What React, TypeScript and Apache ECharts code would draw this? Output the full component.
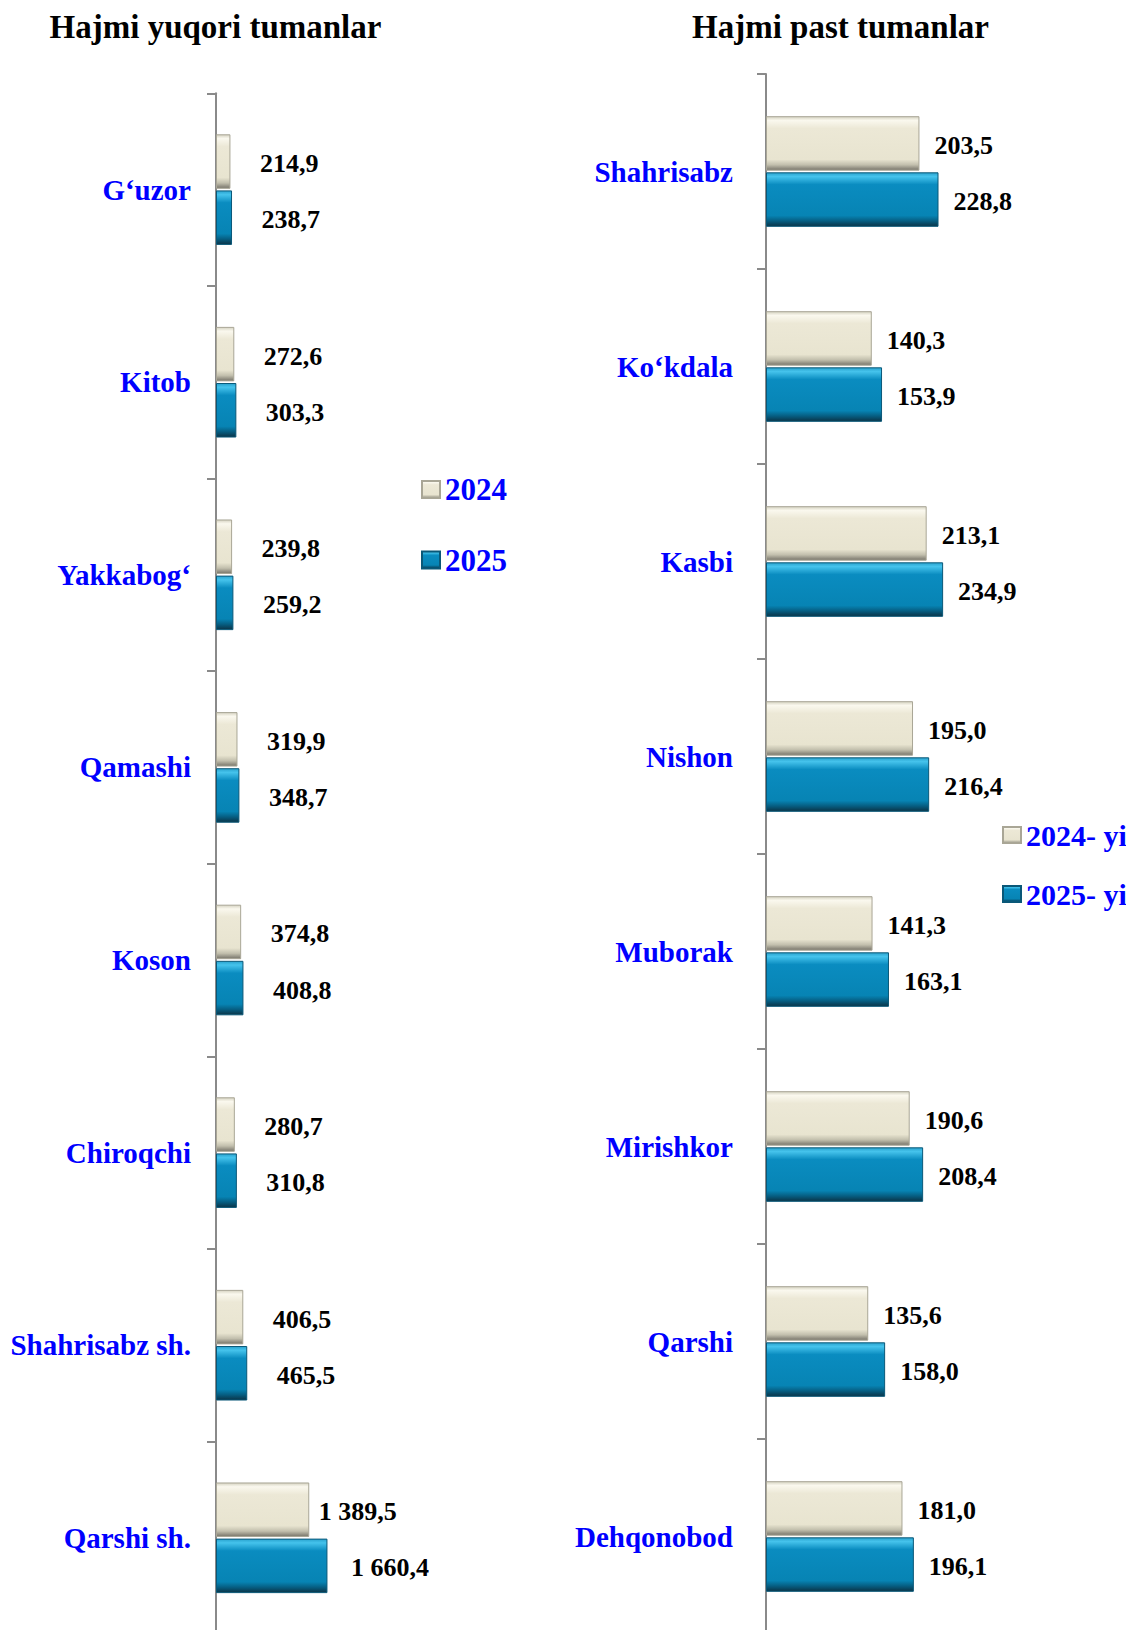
import React, { useEffect, useRef } from "react";
import * as echarts from "echarts";

const leftCategories = ["G‘uzor", "Kitob", "Yakkabog‘", "Qamashi", "Koson", "Chiroqchi", "Shahrisabz sh.", "Qarshi sh."];
const left2024 = [214.9, 272.6, 239.8, 319.9, 374.8, 280.7, 406.5, 1389.5];
const left2025 = [238.7, 303.3, 259.2, 348.7, 408.8, 310.8, 465.5, 1660.4];

const rightCategories = ["Shahrisabz", "Ko‘kdala", "Kasbi", "Nishon", "Muborak", "Mirishkor", "Qarshi", "Dehqonobod"];
const right2024 = [203.5, 140.3, 213.1, 195.0, 141.3, 190.6, 135.6, 181.0];
const right2025 = [228.8, 153.9, 234.9, 216.4, 163.1, 208.4, 158.0, 196.1];

const leftSeriesNames = ["2024", "2025"];
const rightSeriesNames = ["2024- yil", "2025- yil"];
const titles = ["Hajmi yuqori tumanlar", "Hajmi past tumanlar"];

const FONT = '"Liberation Serif", "Times New Roman", serif';

const fmt = (v: number) => {
  const [i, d] = v.toFixed(1).split(".");
  return i.replace(/\B(?=(\d{3})+(?!\d))/g, " ") + "," + d;
};

const grad2024 = () =>
  new echarts.graphic.LinearGradient(0, 0, 0, 1, [
    { offset: 0, color: "#D6D3C2" },
    { offset: 0.07, color: "#FAF8EE" },
    { offset: 0.22, color: "#ECE8D6" },
    { offset: 0.8, color: "#E8E4D0" },
    { offset: 0.9, color: "#C2BFAD" },
    { offset: 1, color: "#77746A" },
  ]);

const grad2025 = () =>
  new echarts.graphic.LinearGradient(0, 0, 0, 1, [
    { offset: 0, color: "#2AA3CF" },
    { offset: 0.07, color: "#45C3EC" },
    { offset: 0.22, color: "#0A8CC0" },
    { offset: 0.8, color: "#0784B4" },
    { offset: 0.9, color: "#065E82" },
    { offset: 1, color: "#0B3447" },
  ]);

export default function App() {
  const ref = useRef<HTMLDivElement>(null);

  useEffect(() => {
    if (!ref.current) return;
    const chart = echarts.init(ref.current, null, { renderer: "svg" });

    const axisStyle = { color: "#8A8A8A", width: 2 };
    const valueLabel = (dist: number) => ({
      show: true,
      position: "right" as const,
      distance: dist,
      offset: [0, 2],
      formatter: (p: any) => fmt(p.value),
      fontFamily: FONT,
      fontWeight: "bold" as const,
      fontSize: 26,
      color: "#000",
    });

    const lastIdx = left2024.length - 1;

    const titleText = (x: number, text: string) => ({
      type: "text",
      x,
      y: 27,
      style: {
        text,
        fontFamily: FONT,
        fontWeight: "bold",
        fontSize: 33,
        fill: "#000",
        align: "center",
        verticalAlign: "middle",
      },
    });

    const option: any = {
      animation: false,
      backgroundColor: "#fff",
      graphic: [titleText(215.5, titles[0]), titleText(840.5, titles[1])],
      legend: [
        {
          data: leftSeriesNames,
          orient: "vertical",
          left: 416,
          top: 469,
          icon: "rect",
          itemWidth: 18,
          itemHeight: 17,
          itemGap: 39.5,
          textStyle: { fontFamily: FONT, fontWeight: "bold", fontSize: 31, color: "#0000FF" },
        },
        {
          data: rightSeriesNames,
          orient: "vertical",
          left: 997,
          top: 815,
          icon: "rect",
          itemWidth: 18,
          itemHeight: 16,
          itemGap: 29,
          textStyle: { fontFamily: FONT, fontWeight: "bold", fontSize: 30, color: "#0000FF" },
        },
      ],
      grid: [
        { left: 216, top: 93.3, width: 335.6, height: 1540.8, containLabel: false, outerBoundsMode: "none" },
        { left: 766, top: 74, width: 301.6, height: 1560, containLabel: false, outerBoundsMode: "none" },
      ],
      xAxis: [
        { type: "value", gridIndex: 0, min: 0, max: 5000, show: false },
        { type: "value", gridIndex: 1, min: 0, max: 400, show: false },
      ],
      yAxis: [
        {
          type: "category",
          gridIndex: 0,
          inverse: true,
          data: leftCategories,
          axisLine: { show: true, lineStyle: axisStyle },
          axisTick: { show: true, length: 9, lineStyle: axisStyle },
          axisLabel: {
            margin: 25,
            fontFamily: FONT,
            fontWeight: "bold",
            fontSize: 29,
            color: "#0000FF",
          },
        },
        {
          type: "category",
          gridIndex: 1,
          inverse: true,
          data: rightCategories,
          axisLine: { show: true, lineStyle: axisStyle },
          axisTick: { show: true, length: 9, lineStyle: axisStyle },
          axisLabel: {
            margin: 33,
            fontFamily: FONT,
            fontWeight: "bold",
            fontSize: 29,
            color: "#0000FF",
          },
        },
      ],
      series: [
        {
          name: leftSeriesNames[0],
          type: "bar",
          xAxisIndex: 0,
          yAxisIndex: 0,
          barWidth: 54.5,
          barGap: "3%",
          itemStyle: { color: grad2024(), borderColor: "#A9A696", borderWidth: 1 },
          label: valueLabel(29.5),
          data: left2024.map((v, i) => (i === lastIdx ? { value: v, label: { distance: 9.5 } } : v)),
        },
        {
          name: leftSeriesNames[1],
          type: "bar",
          xAxisIndex: 0,
          yAxisIndex: 0,
          barWidth: 54.5,
          barGap: "3%",
          itemStyle: { color: grad2025(), borderColor: "#0A5878", borderWidth: 1 },
          label: valueLabel(29.5),
          data: left2025.map((v, i) => (i === lastIdx ? { value: v, label: { distance: 23.5 } } : v)),
        },
        {
          name: rightSeriesNames[0],
          type: "bar",
          xAxisIndex: 1,
          yAxisIndex: 1,
          barWidth: 54.5,
          barGap: "3%",
          itemStyle: { color: grad2024(), borderColor: "#A9A696", borderWidth: 1 },
          label: valueLabel(15),
          data: right2024,
        },
        {
          name: rightSeriesNames[1],
          type: "bar",
          xAxisIndex: 1,
          yAxisIndex: 1,
          barWidth: 54.5,
          barGap: "3%",
          itemStyle: { color: grad2025(), borderColor: "#0A5878", borderWidth: 1 },
          label: valueLabel(15),
          data: right2025,
        },
      ],
    };

    chart.setOption(option);
    return () => chart.dispose();
  }, []);

  return (
    <div
      ref={ref}
      style={{ position: "absolute", left: 0, top: 0, width: 1126, height: 1630, background: "#fff" }}
    />
  );
}
